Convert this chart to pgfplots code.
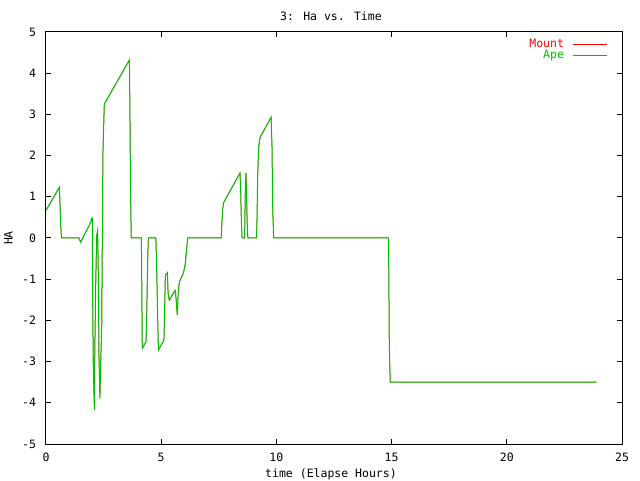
\documentclass[border=0pt]{standalone}
\usepackage{fontspec}
\setmainfont{DejaVu Sans Mono}
\usepackage{pgfplots}
\usepackage{pgfplotstable}
\pgfplotsset{compat=1.18}
\definecolor{gpred}{RGB}{255,0,0}
\definecolor{gpgreen}{RGB}{0,192,0}
\pgfplotstableread{
t ha
0 0.67
0.58 1.23
0.60 0.95
0.64 0.31
0.67 0
1.43 0
1.50 -0.10
1.88 0.31
1.95 0.40
1.98 0.48
2.01 0.48
2.01 -0.46
2.05 -3.04
2.10 -4.17
2.11 -3.11
2.16 -1.06
2.20 0.06
2.24 0.18
2.27 -0.82
2.30 -2.88
2.34 -3.89
2.37 -3.08
2.42 -2.11
2.44 -0.38
2.47 2.04
2.53 3.25
3.62 4.32
3.64 3.25
3.67 1.07
3.70 0
4.14 0
4.16 -1.35
4.18 -2.68
4.34 -2.52
4.37 -1.91
4.41 -0.65
4.44 0
4.77 0
4.80 -0.66
4.85 -2.03
4.88 -2.72
5.12 -2.48
5.15 -1.71
5.18 -0.90
5.27 -0.84
5.30 -1.35
5.35 -1.51
5.60 -1.27
5.64 -1.43
5.67 -1.67
5.70 -1.87
5.74 -1.31
5.79 -1.06
5.96 -0.86
6.04 -0.65
6.11 -0.22
6.15 0
7.61 0
7.62 0.21
7.66 0.63
7.70 0.85
8.42 1.58
8.45 1.15
8.48 0.41
8.51 0
8.62 0
8.63 0.41
8.65 1.15
8.68 1.58
8.70 1.15
8.73 0.41
8.76 0
9.14 0
9.16 0.51
9.19 1.56
9.23 2.20
9.29 2.44
9.77 2.93
9.81 2.20
9.84 0.73
9.88 0
14.86 0
14.88 -0.89
14.90 -2.62
14.94 -3.50
23.90 -3.50
}\hadata
\begin{document}
\fontsize{11.5pt}{13pt}\selectfont
\begin{tikzpicture}[x=1pt,y=1pt]
\path[use as bounding box] (0,0) rectangle (640,480);
\begin{axis}[
  at={(46pt,36pt)}, anchor=south west,
  scale only axis, width=576pt, height=412pt,
  xmin=0, xmax=25, ymin=-5, ymax=5,
  xtick={0,5,10,15,20,25}, ytick={-5,-4,-3,-2,-1,0,1,2,3,4,5},
  tick align=inside, major tick length=5pt,
  axis line style={line width=1pt},
  every tick/.style={black, line width=1pt},
  tick label style={font=\fontsize{11.5pt}{13pt}\selectfont},
  /pgf/number format/assume math mode=true,
  xticklabel style={anchor=center, yshift=-13.5pt},
  yticklabel style={anchor=east, xshift=-6pt},
  legend style={draw=none, fill=none, at={(axis description cs:1,1)}, anchor=north east,
    xshift=-15pt, yshift=-7pt, row sep=0pt, column sep=0pt, inner sep=0pt, outer sep=0pt,
    font=\fontsize{11.5pt}{13pt}\selectfont,
    nodes={inner sep=0pt, outer sep=0pt, text height=8.5pt, text depth=2.5pt}},
  legend plot pos=right, legend cell align=right,
  legend image code/.code={\path (0pt,0pt); \draw[#1, line width=1pt] (8pt,0pt) -- (42pt,0pt);},
]
\addplot[gpred, line width=0.5pt] table[x=t, y=ha] {\hadata};
\addlegendentry{\textcolor{gpred}{Mount}}
\addplot[gpgreen, line width=1pt] table[x=t, y=ha] {\hadata};
\addlegendentry{\textcolor{gpgreen}{Ape}}
\end{axis}
\node at (331,464) {3: Ha vs. Time};
\node at (331,6) {time (Elapse Hours)};
\node[rotate=90] at (8.5,242) {HA};
\end{tikzpicture}
\end{document}
